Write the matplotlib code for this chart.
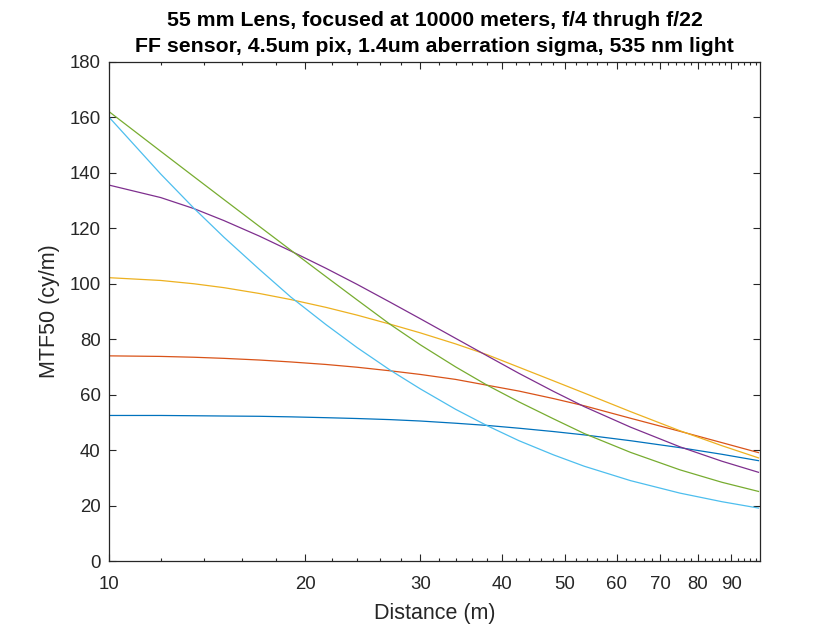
import matplotlib
matplotlib.use('Agg')
import matplotlib.pyplot as plt
from matplotlib.ticker import FixedLocator, NullFormatter

plt.rcParams['font.family'] = ['Liberation Sans', 'DejaVu Sans']

# distance samples (m)
distance = [10, 12, 13.5, 15, 17, 19, 21.5, 24, 27, 30, 34, 38, 42.5, 48, 53.5, 63, 75, 87, 99]

# MTF50, one list per aperture
mtf_f22 = [52.5, 52.5, 52.4, 52.3, 52.2, 52.0, 51.7, 51.4, 51.0, 50.5, 49.7, 48.9, 47.9, 46.7, 45.5, 43.4, 40.9, 38.5, 36.2]
mtf_f16 = [74.0, 73.8, 73.5, 73.1, 72.5, 71.8, 70.9, 69.9, 68.6, 67.3, 65.5, 63.4, 61.3, 58.6, 56.0, 51.5, 46.8, 42.7, 39.1]
mtf_f11 = [102.2, 101.2, 100.0, 98.6, 96.5, 94.3, 91.5, 88.7, 85.4, 82.3, 78.3, 74.4, 69.9, 65.0, 60.6, 53.9, 47.0, 41.6, 37.2]
mtf_f8 = [135.6, 131.1, 127.1, 122.8, 117.2, 111.8, 105.6, 99.8, 93.3, 87.4, 80.3, 74.0, 67.7, 61.2, 55.7, 48.3, 41.2, 36.0, 32.0]
mtf_f56 = [162.1, 147.8, 138.6, 130.4, 120.7, 112.1, 102.6, 94.2, 85.3, 78.0, 70.0, 63.4, 57.4, 51.3, 46.0, 39.2, 32.9, 28.4, 25.1]
mtf_f4 = [160.1, 139.6, 127.2, 116.8, 105.2, 95.2, 85.3, 77.0, 68.8, 62.1, 54.7, 48.8, 43.4, 38.3, 34.2, 29.0, 24.5, 21.4, 19.1]

series = [mtf_f22, mtf_f16, mtf_f11, mtf_f8, mtf_f56, mtf_f4]
colors = [(0, 0.447, 0.741), (0.85, 0.325, 0.098), (0.929, 0.694, 0.125),
          (0.494, 0.184, 0.556), (0.466, 0.674, 0.188), (0.301, 0.745, 0.933)]

major_ticks = [10, 20, 30, 40, 50, 60, 70, 80, 90]
minor_ticks = [d + s for d in major_ticks for s in (2, 4, 6, 8)]

fig = plt.figure(figsize=(8.4, 6.3), dpi=100)
ax = fig.add_axes([0.1298, 0.1095, 0.7752, 0.7921])

for vals, c in zip(series, colors):
    ax.plot(distance, vals, color=c, lw=0.9)

ax.set_xscale('log')
ax.set_xlim(10, 99.6)
ax.set_ylim(0, 180)
ax.xaxis.set_major_locator(FixedLocator(major_ticks))
ax.xaxis.set_minor_locator(FixedLocator(minor_ticks))
ax.xaxis.set_minor_formatter(NullFormatter())
ax.set_xticklabels([str(t) for t in major_ticks])
ax.set_yticks(range(0, 181, 20))

axcol = (0.15, 0.15, 0.15)
for sp in ax.spines.values():
    sp.set_color(axcol)
    sp.set_linewidth(0.9)
ax.tick_params(which='both', direction='in', top=True, right=True, colors=axcol,
               labelsize=13.4)
ax.tick_params(axis='x', which='major', pad=11)
ax.tick_params(axis='y', which='major', pad=6)
ax.tick_params(which='major', length=5, width=0.8)
ax.tick_params(which='minor', length=2.5, width=0.8)

ax.set_xlabel('Distance (m)', fontsize=15.5, color=axcol, labelpad=7)
ax.set_ylabel('MTF50 (cy/m)', fontsize=15.5, color=axcol, labelpad=7)
ax.set_title('55 mm Lens, focused at 10000 meters, f/4 thrugh f/22\n'
             'FF sensor, 4.5um pix, 1.4um aberration sigma, 535 nm light',
             fontsize=15.3, fontweight='bold', color='black', pad=7, linespacing=1.5)

fig.savefig('out.png', dpi=100)
